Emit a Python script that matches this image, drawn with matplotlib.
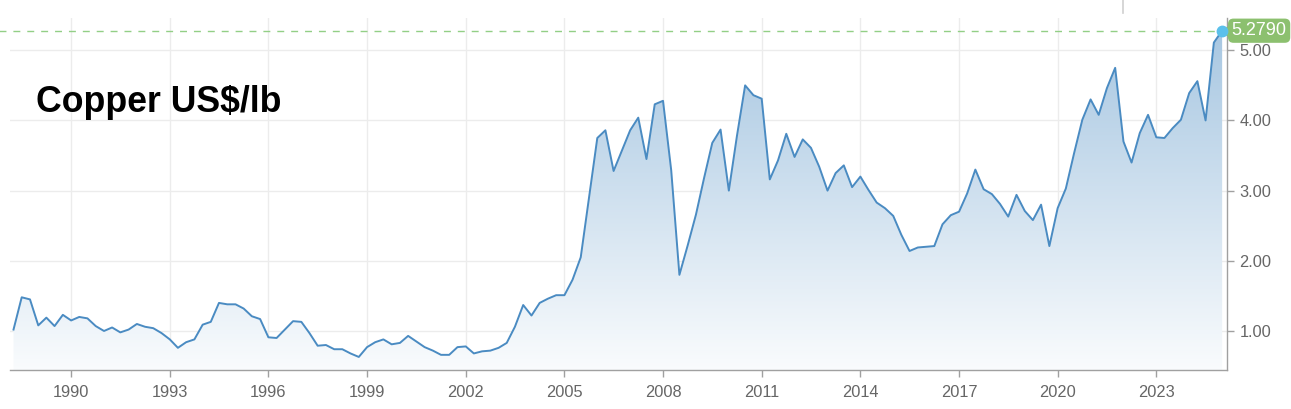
import numpy as np
import pandas as pd
import matplotlib
matplotlib.use("Agg")
import matplotlib.pyplot as plt
import matplotlib.dates as mdates
from matplotlib.lines import Line2D

# quarterly copper price, US$/lb, 1988 Q2 .. 2025 Q1
prices = [
    1.02, 1.48, 1.45,
    1.08, 1.19, 1.07, 1.23,
    1.15, 1.20, 1.18, 1.07,
    1.00, 1.05, 0.98, 1.02,
    1.10, 1.06, 1.04, 0.97,
    0.88, 0.76, 0.84, 0.88,
    1.09, 1.13, 1.40, 1.38,
    1.38, 1.32, 1.21, 1.17,
    0.91, 0.90, 1.02, 1.14,
    1.13, 0.97, 0.79, 0.80,
    0.74, 0.74, 0.68, 0.63,
    0.77, 0.84, 0.88, 0.81,
    0.83, 0.93, 0.85, 0.77,
    0.72, 0.66, 0.66, 0.77,
    0.78, 0.68, 0.71, 0.72,
    0.76, 0.83, 1.06, 1.37,
    1.22, 1.40, 1.46, 1.51,
    1.51, 1.73, 2.05, 2.90,
    3.75, 3.86, 3.28, 3.57,
    3.86, 4.04, 3.45, 4.23,
    4.28, 3.29, 1.80, 2.22,
    2.66, 3.18, 3.68, 3.87,
    3.00, 3.78, 4.50, 4.36,
    4.31, 3.16, 3.43, 3.81,
    3.48, 3.73, 3.61, 3.34,
    3.00, 3.25, 3.36, 3.05,
    3.20, 3.01, 2.83, 2.75,
    2.64, 2.37, 2.14, 2.19,
    2.20, 2.21, 2.52, 2.65,
    2.70, 2.96, 3.30, 3.02,
    2.95, 2.81, 2.63, 2.94,
    2.71, 2.58, 2.80, 2.21,
    2.75, 3.03, 3.53, 4.01,
    4.30, 4.08, 4.46, 4.75,
    3.70, 3.40, 3.82, 4.08,
    3.76, 3.75, 3.89, 4.01,
    4.39, 4.56, 4.00, 5.11,
    5.279,
]
dates = pd.date_range("1988-04-01", periods=len(prices), freq="QS")
tick_years = [1990, 1993, 1996, 1999, 2002, 2005, 2008, 2011, 2014, 2017, 2020, 2023]
y_ticks = [1.0, 2.0, 3.0, 4.0, 5.0]
title = "Copper US$/lb"

W, H = 1291, 409
fig = plt.figure(figsize=(W / 100, H / 100), dpi=100)
fig.patch.set_facecolor("white")

# axes box in pixel terms
left, right, top, bottom = 10, 1227, 18, 370
ax = fig.add_axes([left / W, (H - bottom) / H, (right - left) / W, (bottom - top) / H])

x = mdates.date2num(dates.to_pydatetime())
y = np.array(prices)

x0 = mdates.date2num(pd.Timestamp("1988-02-22"))
x1 = mdates.date2num(pd.Timestamp("2025-02-24"))
ymin, ymax = 0.444, 5.46
ax.set_xlim(x0, x1)
ax.set_ylim(ymin, ymax)

# gradient fill under the line
grad = np.linspace(0, 1, 256).reshape(-1, 1)
base = np.array([74, 139, 194]) / 255.0
alpha = 0.03 + 0.47 * grad
rgb = 1 - alpha * (1 - base)
img = ax.imshow(rgb[::-1].reshape(256, 1, 3), extent=[x0, x1, ymin, ymax],
                aspect="auto", origin="upper", zorder=1)
poly = ax.fill_between(x, ymin, y, color="none", lw=0)
clip = poly.get_paths()[0]
img.set_clip_path(clip, transform=ax.transData)

ax.plot(x, y, color="#4a8bc2", lw=1.4, zorder=3)

# grid
ax.set_xticks([mdates.date2num(pd.Timestamp(f"{yr}-01-01")) for yr in tick_years])
ax.set_xticklabels([str(yr) for yr in tick_years])
ax.set_yticks(y_ticks)
ax.set_yticklabels([f"{v:.2f}" for v in y_ticks])
ax.grid(True, color="#ececec", lw=1)
ax.set_axisbelow(True)

for s in ["left", "top"]:
    ax.spines[s].set_visible(False)
for s in ["right", "bottom"]:
    ax.spines[s].set_color("#a0a0a0")
    ax.spines[s].set_linewidth(1)
ax.yaxis.tick_right()
ax.tick_params(axis="both", colors="#a0a0a0", labelcolor="#666666", labelsize=11.8, length=5, width=1)
ax.tick_params(axis="x", pad=6)
ax.tick_params(axis="y", pad=4)
for lab in ax.get_xticklabels() + ax.get_yticklabels():
    lab.set_family("Liberation Sans")

# last value marker and label
last_x, last_y = x[-1], y[-1]
ax.plot([x0 - 30 * 365, last_x], [last_y, last_y], color="#93cf86", lw=1,
        dashes=(5, 5), clip_on=False, zorder=2)
ax.plot([last_x + 60], [last_y], marker="<", ms=13, color="#8cc06f", clip_on=False, zorder=4)
ax.plot([last_x], [last_y], marker="o", ms=7.5, color="#5bc0eb", mec="#5bc0eb", clip_on=False, zorder=6)
ax.text(last_x + 9.5 * 365 / 32.89, last_y, f"{last_y:.4f}", color="white", fontsize=13,
        family="Liberation Sans", va="center", ha="left", zorder=5, clip_on=False,
        bbox=dict(boxstyle="round,pad=0.2,rounding_size=0.3", fc="#8cc06f", ec="none"))

fig.text(36 / W, 1 - 112 / H, title, fontsize=25.7, fontweight="bold",
         family="Liberation Sans", color="black", va="baseline", ha="left")

fig.add_artist(Line2D([1122.5 / W, 1122.5 / W], [1, 1 - 13 / H], color="#cfcfcf", lw=1.2))

fig.savefig("out.png", dpi=100, facecolor="white")
